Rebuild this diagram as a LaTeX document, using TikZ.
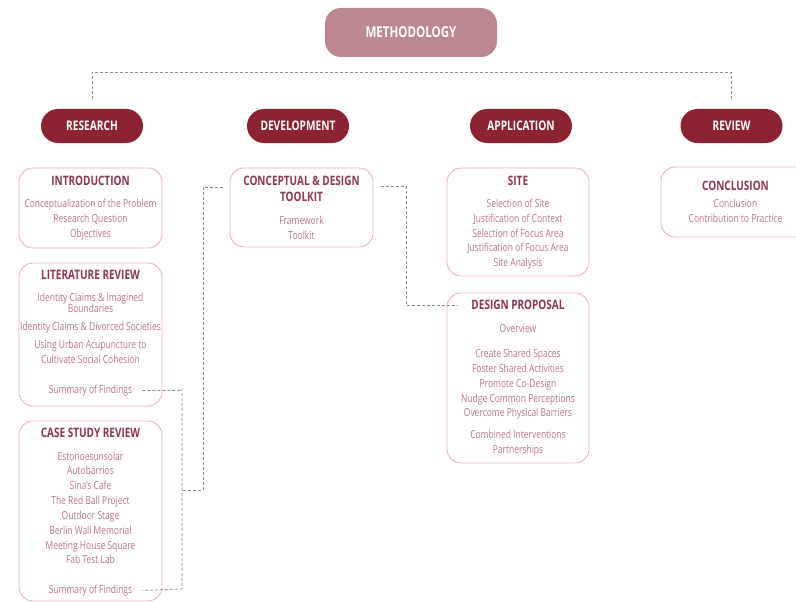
\documentclass[tikz,border=0pt]{standalone}
\usepackage{fontspec}
\setmainfont[FakeStretch=0.77]{Open Sans}
\usetikzlibrary{calc}
\definecolor{pillred}{HTML}{8B2333}
\definecolor{methfill}{HTML}{BD8792}
\definecolor{boxline}{HTML}{E6B3C3}
\definecolor{headcol}{HTML}{8E3651}
\definecolor{bodycol}{HTML}{B87386}
\definecolor{conncol}{HTML}{8C8C8C}
\newcommand\mybl[4]{\node[body] (#1) at (#2,{#3+4.3}) {#4};}
\newcommand\myhl[4]{\node[head] (#1) at (#2,{#3+4.7}) {#4};}
\begin{document}
\begin{tikzpicture}[x=1pt,y=-1pt,
 pill/.style={fill=pillred, rounded corners=17pt, text=white, font=\bfseries\fontsize{13.2}{15}\selectfont, minimum width=102pt, minimum height=34pt, inner sep=0pt},
 meth/.style={fill=methfill, rounded corners=16pt, text=white, font=\bfseries\fontsize{15}{17}\selectfont, minimum width=172pt, minimum height=49pt, inner sep=0pt},
 box/.style={draw=boxline, line width=0.9pt, rounded corners=14pt, inner sep=0pt},
 head/.style={text=headcol, font=\bfseries\fontsize{13}{15}\selectfont, inner sep=0pt, anchor=base},
 body/.style={text=bodycol, font=\fontsize{11}{13}\selectfont, inner sep=0pt, anchor=base},
 conn/.style={draw=conncol, line width=0.7pt, dash pattern=on 3pt off 2pt}]
\useasboundingbox (0,0) rectangle (796,602);
% top
\node[meth] (meth) at (411,32.5) {METHODOLOGY};
\node[pill] (research) at (92,126) {RESEARCH};
\node[pill] (development) at (298,126) {DEVELOPMENT};
\node[pill] (application) at (521,126) {APPLICATION};
\node[pill] (review) at (731.5,126) {REVIEW};
\coordinate (ttop) at (400,72);
\draw[conn] ([yshift=10pt]research.north) |- (ttop) -| ([yshift=10pt]review.north);
% boxes
\node[box, minimum width=143pt, minimum height=80pt] (intro) at (90.5,208) {};
\node[box, minimum width=143pt, minimum height=143pt] (lit) at (90.5,334.5) {};
\node[box, minimum width=143pt, minimum height=180pt] (case) at (90.5,511) {};
\node[box, minimum width=143pt, minimum height=79pt] (toolkit) at (301.5,207.5) {};
\node[box, minimum width=142pt, minimum height=108pt] (site) at (518,222) {};
\node[box, minimum width=142pt, minimum height=170pt] (dp) at (518,378) {};
\node[box, minimum width=149pt, minimum height=70pt] (conc) at (735.5,202) {};
% introduction
\myhl{i0}{90.5}{181}{INTRODUCTION}
\mybl{i1}{90.5}{203}{Conceptualization of the Problem}
\mybl{i2}{90.5}{218}{Research Question}
\mybl{i3}{90.5}{233}{Objectives}
% literature review
\myhl{l0}{90.5}{275}{LITERATURE REVIEW}
\mybl{l1}{90.5}{297}{Identity Claims \& Imagined}
\mybl{l2}{90.5}{308}{Boundaries}
\mybl{l3}{90.5}{326}{Identity Claims \& Divorced Societies}
\mybl{l4}{90.5}{344}{Using Urban Acupuncture to}
\mybl{l5}{90.5}{359}{Cultivate Social Cohesion}
\mybl{litsum}{90.5}{389}{Summary of Findings}
% case study review
\myhl{c0}{90.5}{433}{CASE STUDY REVIEW}
\mybl{c1}{90.5}{456}{Estonoesunsolar}
\mybl{c2}{90.5}{470}{Autobarrios}
\mybl{c3}{90.5}{485}{Sina’s Cafe}
\mybl{c4}{90.5}{500}{The Red Ball Project}
\mybl{c5}{90.5}{515}{Outdoor Stage}
\mybl{c6}{90.5}{530}{Berlin Wall Memorial}
\mybl{c7}{90.5}{545}{Meeting House Square}
\mybl{c8}{90.5}{559}{Fab Test Lab}
\mybl{casesum}{90.5}{589}{Summary of Findings}
% toolkit
\myhl{t0}{301.5}{181}{CONCEPTUAL \& DESIGN}
\myhl{t1}{301.5}{197}{TOOLKIT}
\mybl{t2}{301.5}{220}{Framework}
\mybl{t3}{301.5}{235}{Toolkit}
% site
\myhl{s0}{518}{181}{SITE}
\mybl{s1}{518}{203}{Selection of Site}
\mybl{s2}{518}{218}{Justification of Context}
\mybl{s3}{518}{233}{Selection of Focus Area}
\mybl{s4}{518}{247}{Justification of Focus Area}
\mybl{s5}{518}{262}{Site Analysis}
% design proposal
\myhl{d0}{518}{305}{DESIGN PROPOSAL}
\mybl{d1}{518}{328}{Overview}
\mybl{d2}{518}{353}{Create Shared Spaces}
\mybl{d3}{518}{368}{Foster Shared Activities}
\mybl{d4}{518}{383}{Promote Co-Design}
\mybl{d5}{518}{398}{Nudge Common Perceptions}
\mybl{d6}{518}{412}{Overcome Physical Barriers}
\mybl{d7}{518}{434}{Combined Interventions}
\mybl{d8}{518}{449}{Partnerships}
% conclusion
\myhl{k0}{735.5}{186}{CONCLUSION}
\mybl{k1}{735.5}{203}{Conclusion}
\mybl{k2}{735.5}{218}{Contribution to Practice}
% connectors
\coordinate (j1) at (182,389);
\coordinate (j2) at (182,589);
\draw[conn] ([xshift=10pt]litsum.east) -| (j1) -- (j2) -- ([xshift=10pt]casesum.east);
\coordinate (tkL) at (223,187);
\coordinate (k1c) at (203,187);
\coordinate (k2c) at (203,490);
\coordinate (k3c) at (182,490);
\draw[conn] (tkL) -- (k1c) -- (k2c) -- (k3c);
\coordinate (tkR) at (381,186);
\coordinate (m1) at (406,186);
\coordinate (m2) at (406,305);
\coordinate (dpL) at (458,305);
\draw[conn] (tkR) -- (m1) -- (m2) -- (dpL);
\end{tikzpicture}
\end{document}
